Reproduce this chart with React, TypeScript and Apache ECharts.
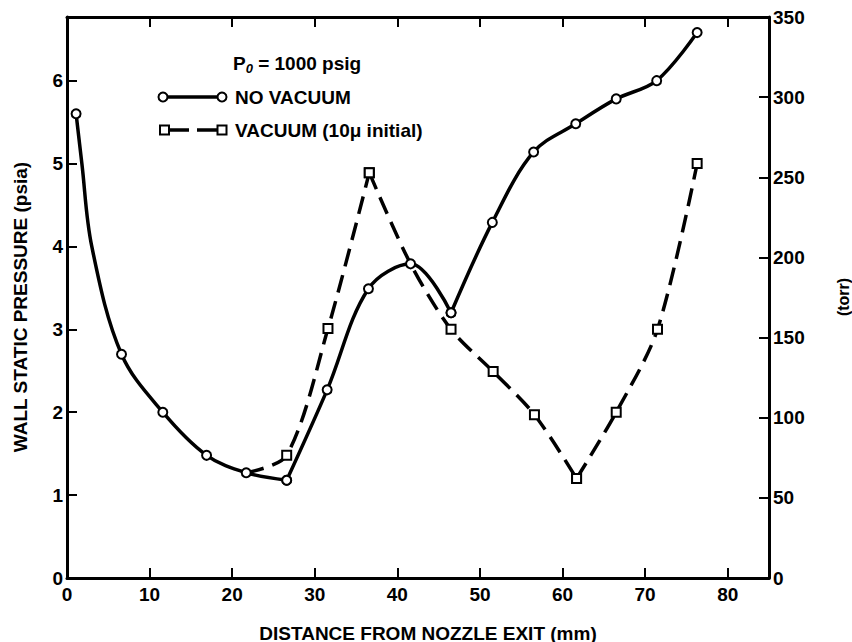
import React, { useEffect, useRef } from "react";
import * as echarts from "echarts";

// NO VACUUM: distance from nozzle exit (mm) / wall static pressure (psia)
const xNoVac = [1.1, 1.8, 3.0, 6.6, 11.6, 16.9, 21.7, 26.6, 31.5, 36.5, 41.6, 46.5, 51.5, 56.5, 61.6, 66.5, 71.4, 76.3];
const yNoVac = [5.6, 5.0, 4.0, 2.7, 2.0, 1.48, 1.27, 1.18, 2.27, 3.49, 3.79, 3.2, 4.29, 5.14, 5.48, 5.78, 6.0, 6.58];
const noVacMarked = [true, false, false, true, true, true, true, true, true, true, true, true, true, true, true, true, true, true];
const noVacCorners = [7, 11]; // indices where the drawn curve has a sharp corner

// VACUUM (10μ initial)
const xVac = [21.7, 26.6, 31.6, 36.6, 41.6, 46.5, 51.6, 56.6, 61.7, 66.5, 71.5, 76.3];
const yVac = [1.27, 1.48, 3.01, 4.89, 3.79, 3.0, 2.49, 1.97, 1.2, 2.0, 3.0, 5.0];
const vacMarked = [false, true, true, true, false, true, true, true, true, true, true, true];
const vacCorners = [3, 8];

const xMax = 85;
const torrMax = 350;
const psiaPerTorr = 1 / 51.715;

const FONT = "'Liberation Sans', Arial, sans-serif";

function segments(xs: number[], ys: number[], marked: boolean[], corners: number[]) {
  const cuts = [0, ...corners, xs.length - 1];
  const out: any[][] = [];
  for (let s = 0; s < cuts.length - 1; s++) {
    const seg: any[] = [];
    for (let i = cuts[s]; i <= cuts[s + 1]; i++) {
      seg.push(marked[i] ? [xs[i], ys[i]] : { value: [xs[i], ys[i]], symbol: "none" });
    }
    out.push(seg);
  }
  return out;
}

export default function App() {
  const ref = useRef<HTMLDivElement>(null);
  useEffect(() => {
    document.body.style.margin = "0";
    const chart = echarts.init(ref.current!, null, { renderer: "svg" });
    const tickLabel = () => ({ color: "#000", fontFamily: FONT, fontWeight: "bold" as const, fontSize: 19 });
    const axisLine = () => ({ show: true, onZero: false, lineStyle: { color: "#000", width: 3 } });
    const axisTick = () => ({ show: true, inside: true, length: 10, lineStyle: { color: "#000", width: 2 } });

    const noVacSegs = segments(xNoVac, yNoVac, noVacMarked, noVacCorners);
    const vacSegs = segments(xVac, yVac, vacMarked, vacCorners);

    const series: any[] = [];
    noVacSegs.forEach((seg) =>
      series.push({
        type: "line",
        name: "NO VACUUM",
        data: seg,
        smooth: 0.35,
        symbol: "circle",
        symbolSize: 9,
        showAllSymbol: true,
        lineStyle: { color: "#000", width: 3.5 },
        itemStyle: { color: "#fff", borderColor: "#000", borderWidth: 2 },
        z: 3,
      })
    );
    vacSegs.forEach((seg) =>
      series.push({
        type: "line",
        name: "VACUUM",
        data: seg,
        smooth: 0.3,
        symbol: "rect",
        symbolSize: 9,
        showAllSymbol: true,
        lineStyle: { color: "#000", width: 3.5, type: [18, 9] },
        itemStyle: { color: "#fff", borderColor: "#000", borderWidth: 2 },
        z: 2,
      })
    );

    const option: any = {
      animation: false,
      backgroundColor: "#fff",
      grid: { left: 67, right: 83, top: 17, bottom: 64, containLabel: false },
      xAxis: [
        {
          type: "value",
          position: "bottom",
          min: 0,
          max: xMax,
          interval: 10,
          axisLine: axisLine(),
          axisTick: axisTick(),
          splitLine: { show: false },
          axisLabel: {
            ...tickLabel(),
            margin: 7,
            formatter: (v: number) => (v % 10 === 0 ? String(v) : ""),
          },
        },
        {
          type: "value",
          position: "top",
          min: 0,
          max: xMax,
          interval: 10,
          axisLine: axisLine(),
          axisTick: axisTick(),
          splitLine: { show: false },
          axisLabel: { show: false },
        },
      ],
      yAxis: [
        {
          type: "value",
          position: "left",
          min: 0,
          max: torrMax * psiaPerTorr,
          interval: 1,
          axisLine: axisLine(),
          axisTick: axisTick(),
          splitLine: { show: false },
          axisLabel: {
            ...tickLabel(),
            margin: 4,
            formatter: (v: number) => (Math.abs(v - Math.round(v)) < 1e-9 ? String(v) : ""),
          },
        },
        {
          type: "value",
          position: "right",
          min: 0,
          max: torrMax,
          interval: 50,
          axisLine: axisLine(),
          axisTick: axisTick(),
          splitLine: { show: false },
          axisLabel: { ...tickLabel(), margin: 4 },
        },
      ],
      series,
      graphic: [
        {
          type: "text",
          x: 20,
          y: 307,
          rotation: Math.PI / 2,
          style: {
            text: "WALL STATIC PRESSURE (psia)",
            font: `bold 19px ${FONT}`,
            fill: "#000",
            align: "center",
            verticalAlign: "middle",
          },
        },
        {
          type: "text",
          x: 843,
          y: 297,
          rotation: Math.PI / 2,
          style: {
            text: "(torr)",
            font: `bold 16px ${FONT}`,
            fill: "#000",
            align: "center",
            verticalAlign: "middle",
          },
        },
        {
          type: "text",
          x: 428,
          y: 633,
          style: {
            text: "DISTANCE FROM NOZZLE EXIT (mm)",
            font: `bold 19px ${FONT}`,
            fill: "#000",
            align: "center",
            verticalAlign: "middle",
          },
        },
        {
          type: "text",
          x: 233,
          y: 63,
          style: {
            text: "{a|P}{s|0}{a| = 1000 psig}",
            align: "left",
            verticalAlign: "middle",
            rich: {
              a: { font: `bold 19px ${FONT}`, fill: "#000" },
              s: { font: `italic bold 13px ${FONT}`, fill: "#000", padding: [10, 0, 0, 0] },
            },
          },
        },
        {
          type: "line",
          shape: { x1: 163, y1: 97, x2: 222, y2: 97 },
          style: { stroke: "#000", lineWidth: 3.5 },
        },
        { type: "circle", shape: { cx: 163, cy: 97, r: 4.5 }, style: { fill: "#fff", stroke: "#000", lineWidth: 2 } },
        { type: "circle", shape: { cx: 222, cy: 97, r: 4.5 }, style: { fill: "#fff", stroke: "#000", lineWidth: 2 } },
        {
          type: "text",
          x: 235,
          y: 97,
          style: { text: "NO VACUUM", font: `bold 19px ${FONT}`, fill: "#000", align: "left", verticalAlign: "middle" },
        },
        {
          type: "line",
          shape: { x1: 168, y1: 130, x2: 218, y2: 130 },
          style: { stroke: "#000", lineWidth: 3.5, lineDash: [21, 8] },
        },
        { type: "rect", shape: { x: 160, y: 125.5, width: 9, height: 9 }, style: { fill: "#fff", stroke: "#000", lineWidth: 2 } },
        { type: "rect", shape: { x: 217.5, y: 125.5, width: 9, height: 9 }, style: { fill: "#fff", stroke: "#000", lineWidth: 2 } },
        {
          type: "text",
          x: 235,
          y: 130,
          style: { text: "VACUUM (10μ initial)", font: `bold 19px ${FONT}`, fill: "#000", align: "left", verticalAlign: "middle" },
        },
      ],
    };
    chart.setOption(option);
    return () => chart.dispose();
  }, []);
  return <div ref={ref} style={{ position: "fixed", left: 0, top: 0, width: 852, height: 642 }} />;
}
